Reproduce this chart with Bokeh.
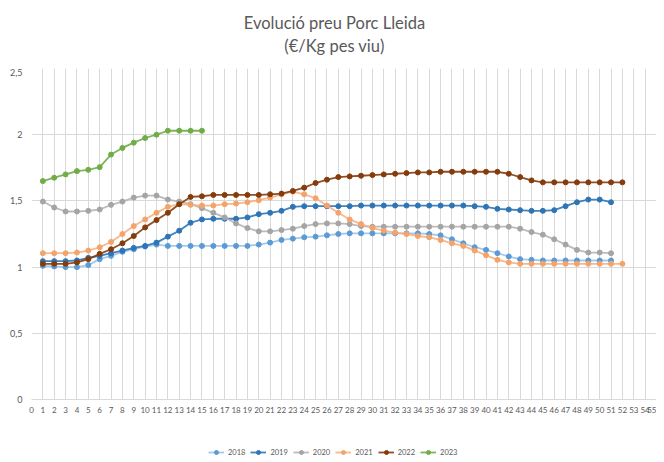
from bokeh.plotting import figure
from bokeh.models import Range1d, FixedTicker, Legend, LegendItem, Label
from bokeh.layouts import column
from bokeh.embed import file_html
from bokeh.resources import INLINE

title_text = "Evolució preu Porc Lleida"
subtitle_text = "(€/Kg pes viu)"
years = ["2018", "2019", "2020", "2021", "2022", "2023"]

v2018 = [1.01, 1.005, 1.00, 1.00, 1.015, 1.06, 1.085, 1.115, 1.135, 1.155, 1.17,
         1.16, 1.16, 1.16, 1.16, 1.16, 1.16, 1.16, 1.16,
         1.17, 1.185, 1.205, 1.215, 1.225, 1.23, 1.24, 1.25,
         1.255, 1.255, 1.255, 1.255, 1.255, 1.255, 1.255,
         1.25, 1.24, 1.21, 1.18, 1.15, 1.13, 1.105, 1.08, 1.06, 1.055,
         1.05, 1.05, 1.05, 1.05, 1.05, 1.05, 1.05]
v2019 = [1.045, 1.045, 1.045, 1.05, 1.07, 1.085, 1.105, 1.125, 1.145, 1.16, 1.185,
         1.23, 1.275, 1.335, 1.36, 1.365, 1.365, 1.365, 1.375, 1.40, 1.41, 1.425,
         1.455, 1.46, 1.46, 1.46, 1.46, 1.46,
         1.465, 1.465, 1.465, 1.465, 1.465, 1.465, 1.465, 1.465, 1.465, 1.465,
         1.46, 1.455, 1.44, 1.435, 1.43, 1.425, 1.425, 1.43, 1.46, 1.49, 1.51, 1.51, 1.49]
v2020 = [1.495, 1.45, 1.42, 1.42, 1.425, 1.435, 1.47, 1.495, 1.525, 1.54, 1.54,
         1.51, 1.495, 1.475, 1.445, 1.41, 1.375, 1.33, 1.295, 1.27, 1.27, 1.28,
         1.29, 1.31, 1.325, 1.33, 1.33, 1.325, 1.31,
         1.305, 1.305, 1.305, 1.305, 1.305, 1.305, 1.305, 1.305, 1.305, 1.305,
         1.305, 1.305, 1.305,
         1.29, 1.265, 1.245, 1.21, 1.17, 1.13, 1.11, 1.11, 1.105]
v2021 = [1.105, 1.105, 1.105, 1.11, 1.125, 1.15, 1.19, 1.25, 1.31, 1.36, 1.41,
         1.455, 1.475, 1.47, 1.465, 1.465, 1.475, 1.48, 1.49, 1.505, 1.525, 1.55,
         1.57, 1.55, 1.52, 1.465, 1.41, 1.36, 1.325, 1.295, 1.275, 1.26, 1.25,
         1.235, 1.225, 1.205, 1.18, 1.16, 1.125, 1.09, 1.055, 1.035,
         1.025, 1.025, 1.025, 1.025, 1.025, 1.025, 1.025, 1.025, 1.025, 1.025]
v2022 = [1.025, 1.025, 1.025, 1.035, 1.06, 1.10, 1.135, 1.18, 1.235, 1.30, 1.355,
         1.41, 1.475, 1.53, 1.535, 1.545, 1.545, 1.545, 1.545, 1.545, 1.55, 1.555,
         1.575, 1.60, 1.635, 1.66, 1.68, 1.685, 1.69, 1.695, 1.70, 1.705, 1.71,
         1.715, 1.715, 1.72, 1.72, 1.72, 1.72, 1.72, 1.72, 1.705, 1.68, 1.655,
         1.64, 1.64, 1.64, 1.64, 1.64, 1.64, 1.64, 1.64]
v2023 = [1.65, 1.675, 1.70, 1.725, 1.735, 1.755, 1.85, 1.90, 1.94, 1.975, 2.00,
         2.03, 2.03, 2.03, 2.03]

x_ticks = list(range(0, 56))
y_ticks = [0, 0.5, 1, 1.5, 2, 2.5]
y_labels = ["0", "0,5", "1", "1,5", "2", "2,5"]

series = [v2018, v2019, v2020, v2021, v2022, v2023]
line_colors = ["#9DC3E6", "#2E75B6", "#B4B4B4", "#F4B183", "#843C0C", "#70AD47"]
marker_colors = ["#5B9BD5", "#2E75B6", "#A5A5A5", "#F4A46A", "#843C0C", "#70AD47"]

FONT = "Lato"
GRAY = "#595959"
W = 656


def bare(fig):
    fig.outline_line_color = None
    fig.grid.visible = False
    return fig


# ---- title strip ----
pt = bare(figure(width=W, height=68, output_backend="svg", toolbar_location=None,
                 x_range=Range1d(0, W), y_range=Range1d(0, 68),
                 min_border=0, x_axis_type=None, y_axis_type=None))
pt.add_layout(Label(x=318, y=46, text=title_text, text_align="center",
                    text_baseline="middle", text_font=FONT, text_font_size="16.5px",
                    text_color=GRAY))
pt.add_layout(Label(x=318, y=23, text=subtitle_text, text_align="center",
                    text_baseline="middle", text_font=FONT, text_font_size="16.5px",
                    text_color=GRAY))

# ---- main chart ----
p = figure(frame_width=625, frame_height=331, output_backend="svg", toolbar_location=None,
           x_range=Range1d(0, 55), y_range=Range1d(0, 2.5),
           min_border_left=31, min_border_right=0, min_border_top=0,
           min_border_bottom=0)
p.outline_line_color = None

p.xaxis.ticker = FixedTicker(ticks=x_ticks)
p.yaxis.ticker = FixedTicker(ticks=y_ticks)
p.yaxis.major_label_overrides = {t: l for t, l in zip(y_ticks, y_labels)}
p.xgrid.ticker = FixedTicker(ticks=x_ticks)
p.ygrid.ticker = FixedTicker(ticks=y_ticks)
for g in (p.xgrid, p.ygrid):
    g.grid_line_color = "#D9D9D9"
    g.grid_line_width = 1

for ax in (p.xaxis, p.yaxis):
    ax.major_tick_line_color = None
    ax.minor_tick_line_color = None
    ax.major_tick_out = 0
    ax.major_tick_in = 0
    ax.minor_tick_out = 0
    ax.major_label_text_color = GRAY
    ax.major_label_text_font = FONT
p.yaxis.axis_line_color = None
p.xaxis.axis_line_color = "#D9D9D9"
p.yaxis.major_label_text_font_size = "9px"
p.xaxis.major_label_text_font_size = "8px"
p.xaxis.major_label_standoff = 7
p.yaxis.major_label_standoff = 9

# ---- legend strip ----
pl = bare(figure(width=W, height=46, output_backend="svg", toolbar_location=None,
                 x_range=Range1d(1000, 1001), y_range=Range1d(1000, 1001),
                 min_border=0, x_axis_type=None, y_axis_type=None))

items = []
for yr, vals, lc, mc in zip(years, series, line_colors, marker_colors):
    wk = list(range(1, len(vals) + 1))
    p.line(wk, vals, line_color=lc, line_width=1.8, line_alpha=0.9)
    p.scatter(wk, vals, marker="circle", size=5, fill_color=mc, line_color=mc)
    l1 = pl.line(wk, vals, line_color=lc, line_width=1.8, line_alpha=0.9)
    l2 = pl.scatter(wk, vals, marker="circle", size=5, fill_color=mc, line_color=mc)
    items.append(LegendItem(label=yr, renderers=[l1, l2]))

leg = Legend(items=items, orientation="horizontal", location=(177, 3),
             label_text_font=FONT, label_text_font_size="7.5px",
             label_text_color=GRAY, glyph_width=16, glyph_height=10,
             label_height=12, label_width=14,
             spacing=5, padding=0, margin=0, border_line_alpha=0,
             background_fill_alpha=0, label_standoff=4)
pl.add_layout(leg)

layout = column(pt, p, pl, spacing=0)
open("out.html", "w").write(file_html(layout, INLINE))
